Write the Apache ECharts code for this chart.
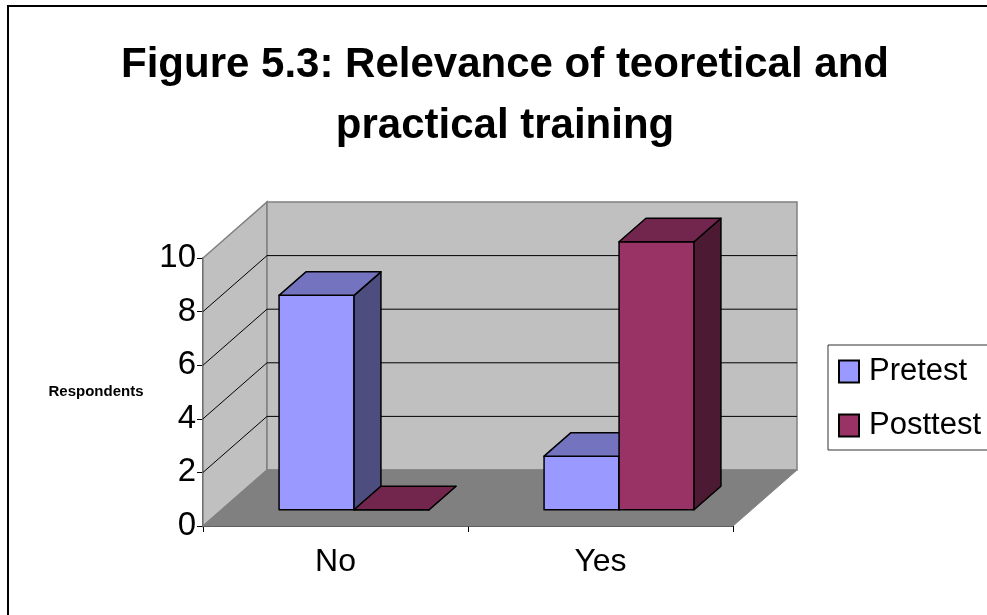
<!DOCTYPE html>
<html>
<head>
<meta charset="utf-8">
<script src="https://cdn.jsdelivr.net/npm/echarts@6/dist/echarts.min.js"></script>
<style>
  html, body { margin: 0; padding: 0; background: #fff; }
  #chart { width: 987px; height: 615px; }
</style>
</head>
<body>
<div id="chart"></div>
<script>
// data
const categories = ['No', 'Yes'];
const seriesNames = ['Pretest', 'Posttest'];
const pretest = [8, 2];
const posttest = [0, 10];
const yTicks = [0, 2, 4, 6, 8, 10];

// 3d look
const DX = 64, DY = -56;        // depth offset of back wall (px)
const BAR_W = 0.283;            // bar width as part of a category band
const D0 = 0.29, D1 = 0.71;     // bar depth range as part of floor depth
const FONT = '"Liberation Sans", Arial, sans-serif';

const faces = {
  Pretest: { front: '#9999FF', top: '#7373BF', side: '#4D4D80' },
  Posttest: { front: '#993366', top: '#73264D', side: '#4D1A33' }
};

const chart = echarts.init(document.getElementById('chart'));

// walls, floor and wall gridlines
function renderWalls(params, api) {
  const cs = params.coordSys;
  const L = cs.x, R = cs.x + cs.width;
  const B = api.coord([0, 0])[1];
  const T = api.coord([0, yTicks[yTicks.length - 1]])[1];
  const wallStyle = { fill: '#C0C0C0', stroke: '#808080', lineWidth: 1.5 };
  const children = [
    { type: 'polygon', shape: { points: [[L, B], [L, T], [L + DX, T + DY], [L + DX, B + DY]] }, style: wallStyle },
    { type: 'polygon', shape: { points: [[L + DX, T + DY], [R + DX, T + DY], [R + DX, B + DY], [L + DX, B + DY]] }, style: wallStyle }
  ];
  yTicks.slice(1, -1).forEach(function (v) {
    const y = api.coord([0, v])[1];
    children.push({ type: 'line', shape: { x1: L + DX, y1: y + DY, x2: R + DX, y2: y + DY }, style: { stroke: '#000', lineWidth: 1 } });
    children.push({ type: 'line', shape: { x1: L, y1: y, x2: L + DX, y2: y + DY }, style: { stroke: '#000', lineWidth: 1 } });
  });
  children.push({
    type: 'polygon',
    shape: { points: [[L, B], [R, B], [R + DX, B + DY], [L + DX, B + DY]] },
    style: { fill: '#808080', stroke: '#808080', lineWidth: 1 }
  });
  return { type: 'group', children: children };
}

// one 3d bar
function makeBarRenderer(name, slot) {
  const c = faces[name];
  return function (params, api) {
    const idx = api.value(0);
    const val = api.value(1);
    const base = api.coord([idx, 0]);
    const band = api.size([1, 0])[0];
    const w = BAR_W * band;
    const fx = D0 * DX, fy = D0 * DY;
    const bx = (D1 - D0) * DX, by = (D1 - D0) * DY;
    const x0 = base[0] - w + slot * w + fx;
    const x1 = x0 + w;
    const y0 = base[1] + fy;
    const yv = api.coord([idx, val])[1] + fy;
    const line = { stroke: '#000', lineWidth: 1.5, lineJoin: 'round' };
    return {
      type: 'group',
      children: [
        { type: 'polygon', shape: { points: [[x0, yv], [x1, yv], [x1, y0], [x0, y0]] }, style: Object.assign({ fill: c.front }, line) },
        { type: 'polygon', shape: { points: [[x1, yv], [x1 + bx, yv + by], [x1 + bx, y0 + by], [x1, y0]] }, style: Object.assign({ fill: c.side }, line) },
        { type: 'polygon', shape: { points: [[x0, yv], [x1, yv], [x1 + bx, yv + by], [x0 + bx, yv + by]] }, style: Object.assign({ fill: c.top }, line) }
      ]
    };
  };
}

const option = {
  backgroundColor: '#fff',
  animation: false,
  title: {
    text: 'Figure 5.3: Relevance of teoretical and\npractical training',
    left: 500,
    top: 30,
    textAlign: 'center',
    textStyle: { fontFamily: FONT, fontSize: 42, fontWeight: 'bold', color: '#000', lineHeight: 61 }
  },
  graphic: [
    {
      // outer chart border, runs past the right and bottom edge
      type: 'rect',
      shape: { x: 8, y: 6, width: 1200, height: 1200 },
      style: { fill: 'none', stroke: '#000', lineWidth: 2 },
      silent: true
    },
    {
      // legend frame, cut off at the right edge
      type: 'rect',
      shape: { x: 828, y: 345, width: 200, height: 105 },
      style: { fill: 'none', stroke: '#333', lineWidth: 1 },
      silent: true
    }
  ],
  legend: {
    orient: 'vertical',
    left: 828,
    top: 345,
    data: seriesNames,
    icon: 'rect',
    itemWidth: 20,
    itemHeight: 22,
    itemGap: 23,
    padding: [11, 10, 9, 10],
    itemStyle: { borderColor: '#000', borderWidth: 2 },
    textStyle: { fontFamily: FONT, fontSize: 31, color: '#000', padding: [0, 0, 0, 5] }
  },
  grid: { left: 203, right: 254, top: 258, bottom: 89 },
  xAxis: {
    type: 'category',
    data: categories,
    axisLine: { lineStyle: { color: '#000', width: 1.5 } },
    axisTick: { show: true, length: 6, lineStyle: { color: '#000' } },
    axisLabel: { fontFamily: FONT, fontSize: 32, color: '#000', margin: 20 }
  },
  yAxis: {
    type: 'value',
    min: 0,
    max: 10,
    interval: 2,
    name: 'Respondents',
    nameLocation: 'middle',
    nameRotate: 0,
    nameGap: 107,
    nameTextStyle: { fontFamily: FONT, fontSize: 15, fontWeight: 'bold', color: '#000', align: 'center' },
    axisLine: { show: true, lineStyle: { color: '#000', width: 1.5 } },
    axisTick: { show: true, length: 6, lineStyle: { color: '#000' } },
    splitLine: { show: false },
    axisLabel: { fontFamily: FONT, fontSize: 33, color: '#000', margin: 7 }
  },
  series: [
    {
      type: 'custom',
      name: 'walls',
      silent: true,
      renderItem: renderWalls,
      data: [[0, 0]],
      z: 1
    },
    {
      type: 'custom',
      name: 'Pretest',
      itemStyle: { color: faces.Pretest.front },
      renderItem: makeBarRenderer('Pretest', 0),
      data: pretest.map(function (v, i) { return [i, v]; }),
      z: 2
    },
    {
      type: 'custom',
      name: 'Posttest',
      itemStyle: { color: faces.Posttest.front },
      renderItem: makeBarRenderer('Posttest', 1),
      data: posttest.map(function (v, i) { return [i, v]; }),
      z: 3
    }
  ]
};

chart.setOption(option);
</script>
</body>
</html>
